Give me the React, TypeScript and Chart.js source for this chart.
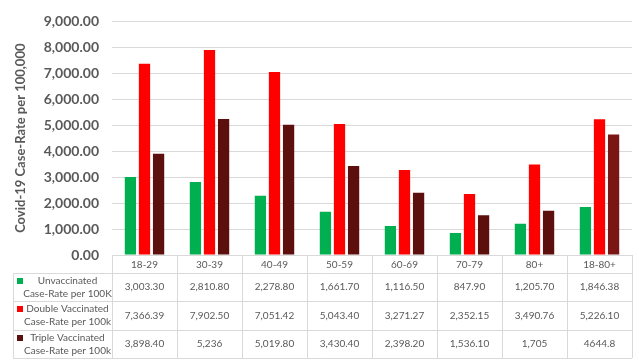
import React, { useEffect, useRef } from "react";
import { Chart, registerables } from "chart.js";

Chart.register(...registerables);

const categories = ["18-29", "30-39", "40-49", "50-59", "60-69", "70-79", "80+", "18-80+"];
const unvaccinated = [3003.3, 2810.8, 2278.8, 1661.7, 1116.5, 847.9, 1205.7, 1846.38];
const doubleVaccinated = [7366.39, 7902.5, 7051.42, 5043.4, 3271.27, 2352.15, 3490.76, 5226.1];
const tripleVaccinated = [3898.4, 5236, 5019.8, 3430.4, 2398.2, 1536.1, 1705, 4644.8];
const unvaccinatedText = ["3,003.30", "2,810.80", "2,278.80", "1,661.70", "1,116.50", "847.90", "1,205.70", "1,846.38"];
const doubleText = ["7,366.39", "7,902.50", "7,051.42", "5,043.40", "3,271.27", "2,352.15", "3,490.76", "5,226.10"];
const tripleText = ["3,898.40", "5,236", "5,019.80", "3,430.40", "2,398.20", "1,536.10", "1,705", "4644.8"];
const seriesLegend = [
  ["Unvaccinated", "Case-Rate per 100K"],
  ["Double Vaccinated", "Case-Rate per 100k"],
  ["Triple Vaccinated", "Case-Rate per 100k"],
];
const yTitle = "Covid-19 Case-Rate per 100,000";

const GREEN = "#00B050";
const RED = "#FF0000";
const DARK = "#5C0F0D";
const DARK_TOTAL = "#7A1714";
const TEXT = "#595959";
const GRID = "#D9D9D9";
const FONT = "Lato, 'Open Sans', sans-serif";

const tablePlugin = {
  id: "dataTable",
  afterDraw(chart: any) {
    const ctx = chart.ctx as CanvasRenderingContext2D;
    const area = chart.chartArea;
    const n = categories.length;
    const colW = area.width / n;
    const top = area.bottom;
    const rows = [top + 18, top + 46, top + 75, top + 103];
    const legendLeft = 13;
    ctx.save();
    ctx.strokeStyle = GRID;
    ctx.lineWidth = 1;
    rows.forEach((y) => {
      ctx.beginPath();
      ctx.moveTo(legendLeft, Math.round(y) + 0.5);
      ctx.lineTo(area.right, Math.round(y) + 0.5);
      ctx.stroke();
    });
    for (let i = 0; i <= n; i++) {
      const x = Math.round(area.left + i * colW) + 0.5;
      ctx.beginPath();
      ctx.moveTo(x, top);
      ctx.lineTo(x, rows[3]);
      ctx.stroke();
    }
    ctx.beginPath();
    ctx.moveTo(legendLeft + 0.5, rows[0]);
    ctx.lineTo(legendLeft + 0.5, rows[3]);
    ctx.stroke();

    ctx.fillStyle = TEXT;
    ctx.font = `10px ${FONT}`;
    ctx.textAlign = "center";
    ctx.textBaseline = "middle";
    categories.forEach((c, i) => {
      ctx.fillText(c, area.left + (i + 0.5) * colW, (top + rows[0]) / 2 + 1);
    });
    const texts = [unvaccinatedText, doubleText, tripleText];
    const colors = [GREEN, RED, DARK];
    texts.forEach((arr, r) => {
      const yc = (rows[r] + rows[r + 1]) / 2;
      arr.forEach((t, i) => {
        ctx.fillStyle = TEXT;
        ctx.fillText(t, area.left + (i + 0.5) * colW, yc);
      });
      const lx = 67.5;
      ctx.fillText(seriesLegend[r][0], lx, yc - 6.5);
      ctx.fillText(seriesLegend[r][1], lx, yc + 6.5);
      ctx.fillStyle = colors[r];
      ctx.fillRect(17, Math.round(yc - 6.5) - 3, 6, 6);
    });
    ctx.restore();
  },
};

export default function App() {
  const ref = useRef<HTMLCanvasElement>(null);
  useEffect(() => {
    if (!ref.current) return;
    const chart = new Chart(ref.current, {
      type: "bar",
      data: {
        labels: categories,
        datasets: [
          { label: "Unvaccinated Case-Rate per 100K", data: unvaccinated, backgroundColor: GREEN },
          { label: "Double Vaccinated Case-Rate per 100k", data: doubleVaccinated, backgroundColor: RED },
          {
            label: "Triple Vaccinated Case-Rate per 100k",
            data: tripleVaccinated,
            backgroundColor: tripleVaccinated.map((_, i) => (i === tripleVaccinated.length - 1 ? DARK_TOTAL : DARK)),
          },
        ],
      },
      options: {
        responsive: false,
        animation: false,
        layout: { padding: { top: 12, right: 7, left: 0, bottom: 0 } },
        plugins: { legend: { display: false }, tooltip: { enabled: false } },
        datasets: { bar: { categoryPercentage: 0.65, barPercentage: 0.8 } },
        scales: {
          x: {
            ticks: { display: false },
            grid: { display: false },
            border: { display: true, color: GRID },
            afterFit: (s: any) => {
              s.height = 107;
            },
          },
          y: {
            min: 0,
            max: 9000,
            ticks: {
              stepSize: 1000,
              padding: 13,
              color: TEXT,
              font: { family: FONT, size: 14, weight: "bold" },
              callback: (v: any) =>
                Number(v).toLocaleString("en-US", { minimumFractionDigits: 2, maximumFractionDigits: 2 }),
            },
            grid: { color: GRID, drawTicks: false },
            border: { display: false },
            title: {
              display: true,
              text: yTitle,
              color: TEXT,
              font: { family: FONT, size: 13, weight: "bold" },
              padding: { top: 13, bottom: 0 },
            },
            afterFit: (s: any) => {
              s.width = 112;
            },
          },
        },
      },
      plugins: [tablePlugin],
    });
    return () => chart.destroy();
  }, []);
  return (
    <div style={{ position: "absolute", left: 0, top: 0, width: 639, height: 362, background: "#fff" }}>
      <canvas ref={ref} width={639} height={362} />
    </div>
  );
}
